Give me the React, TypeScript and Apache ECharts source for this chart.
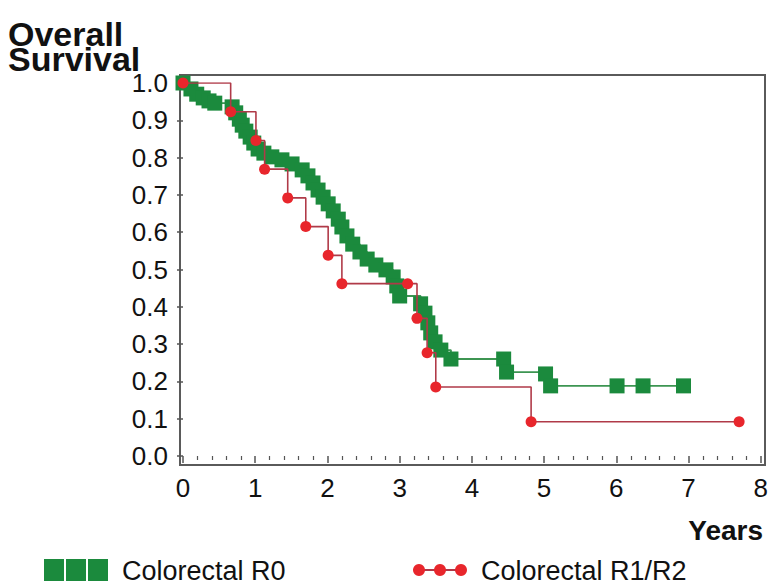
import React, { useEffect, useRef } from "react";
import * as echarts from "echarts";

// R0 group (green squares): Kaplan-Meier steps
const r0Years = [0, 0.11, 0.19, 0.28, 0.36, 0.44, 0.68, 0.73, 0.78, 0.82, 0.87, 0.93, 0.98, 1.04, 1.12, 1.23, 1.37, 1.51, 1.65, 1.73, 1.8, 1.87, 1.94, 2.01, 2.08, 2.15, 2.2, 2.27, 2.35, 2.45, 2.55, 2.67, 2.81, 2.91, 2.96, 3.0, 3.29, 3.35, 3.39, 3.43, 3.49, 3.57, 3.71, 4.44, 4.48, 5.02, 5.09, 6.01, 6.37, 6.93];
const r0Survival = [1.0, 0.984, 0.97, 0.96, 0.952, 0.946, 0.936, 0.92, 0.903, 0.887, 0.871, 0.855, 0.839, 0.823, 0.812, 0.802, 0.794, 0.783, 0.767, 0.751, 0.732, 0.713, 0.694, 0.676, 0.657, 0.635, 0.614, 0.59, 0.568, 0.547, 0.528, 0.512, 0.499, 0.48, 0.456, 0.429, 0.408, 0.383, 0.357, 0.33, 0.306, 0.284, 0.26, 0.26, 0.225, 0.22, 0.188, 0.188, 0.188, 0.188];

// R1/R2 group (red circles)
const r12Years = [0, 0.66, 1.01, 1.13, 1.45, 1.7, 2.01, 2.2, 3.11, 3.24, 3.38, 3.5, 4.82, 7.7];
const r12Survival = [1.0, 0.923, 0.846, 0.769, 0.692, 0.615, 0.538, 0.462, 0.462, 0.369, 0.277, 0.185, 0.092, 0.092];

const xTicks = [0, 1, 2, 3, 4, 5, 6, 7, 8];
const yTicks = [0, 0.1, 0.2, 0.3, 0.4, 0.5, 0.6, 0.7, 0.8, 0.9, 1.0];

const seriesNames = ["Colorectal R0", "Colorectal R1/R2"];
const yAxisTitleLines = ["Overall", "Survival"];
const xAxisTitle = "Years";

const FONT = "'Liberation Sans', Arial, Helvetica, sans-serif";

export default function App() {
  const ref = useRef<HTMLDivElement>(null);

  useEffect(() => {
    if (!ref.current) return;
    const chart = echarts.init(ref.current, null, { renderer: "svg" });

    const r0Data = r0Years.map((t, i) => [t, r0Survival[i]]);
    const r12Data = r12Years.map((t, i) => [t, r12Survival[i]]);

    const green = "#1b8a3d";
    const red = "#e8262c";

    chart.setOption({
      animation: false,
      backgroundColor: "#ffffff",
      grid: { left: 183, right: 10, top: 83, bottom: 130, containLabel: false },
      xAxis: {
        type: "value",
        min: xTicks[0],
        max: xTicks[xTicks.length - 1],
        interval: 1,
        offset: 9,
        axisLine: { show: false },
        axisTick: { show: true, length: 7, lineStyle: { color: "#555", width: 1.5 } },
        minorTick: { show: true, splitNumber: 5, length: 4, lineStyle: { color: "#555", width: 1.2 } },
        splitLine: { show: false },
        axisLabel: { fontSize: 26, color: "#111", fontFamily: FONT, margin: 10 },
      },
      yAxis: {
        type: "value",
        min: yTicks[0],
        max: yTicks[yTicks.length - 1],
        interval: 0.1,
        offset: 3,
        axisLine: { show: false },
        axisTick: { show: true, length: 6, lineStyle: { color: "#555", width: 1.5 } },
        splitLine: { show: false },
        axisLabel: {
          fontSize: 26,
          color: "#111",
          fontFamily: FONT,
          margin: 12,
          formatter: (v: number) => v.toFixed(1),
        },
      },
      graphic: [
        {
          type: "rect",
          shape: { x: 180, y: 75, width: 585, height: 390 },
          style: { fill: "none", stroke: "#5a5a5a", lineWidth: 2 },
          silent: true,
          z: 0,
        },
        {
          type: "text",
          x: 8,
          y: 34,
          style: {
            text: yAxisTitleLines[0],
            font: `bold 34px ${FONT}`,
            fill: "#111",
            verticalAlign: "middle",
          },
        },
        {
          type: "text",
          x: 8,
          y: 59,
          style: {
            text: yAxisTitleLines[1],
            font: `bold 34px ${FONT}`,
            fill: "#111",
            verticalAlign: "middle",
          },
        },
        {
          type: "text",
          x: 763,
          y: 530,
          style: {
            text: xAxisTitle,
            font: `bold 28px ${FONT}`,
            fill: "#111",
            align: "right",
            verticalAlign: "middle",
          },
        },
        // legend: green squares
        { type: "rect", shape: { x: 44, y: 559, width: 20, height: 22 }, style: { fill: green } },
        { type: "rect", shape: { x: 66, y: 559, width: 20, height: 22 }, style: { fill: green } },
        { type: "rect", shape: { x: 88, y: 559, width: 20, height: 22 }, style: { fill: green } },
        {
          type: "text",
          x: 122,
          y: 571,
          style: { text: seriesNames[0], font: `27px ${FONT}`, fill: "#111", verticalAlign: "middle" },
        },
        // legend: red dots
        {
          type: "line",
          shape: { x1: 415, y1: 570, x2: 464, y2: 570 },
          style: { stroke: "#b03a48", lineWidth: 2 },
        },
        { type: "circle", shape: { cx: 419, cy: 570, r: 6 }, style: { fill: red } },
        { type: "circle", shape: { cx: 440, cy: 570, r: 6 }, style: { fill: red } },
        { type: "circle", shape: { cx: 461, cy: 570, r: 6 }, style: { fill: red } },
        {
          type: "text",
          x: 481,
          y: 571,
          style: { text: seriesNames[1], font: `27px ${FONT}`, fill: "#111", verticalAlign: "middle" },
        },
      ],
      series: [
        {
          name: seriesNames[0],
          type: "line",
          step: "end",
          data: r0Data,
          showSymbol: true,
          showAllSymbol: true,
          symbol: "rect",
          symbolSize: 15,
          itemStyle: { color: green },
          lineStyle: { color: "#3d9552", width: 1.8 },
          z: 2,
        },
        {
          name: seriesNames[1],
          type: "line",
          step: "end",
          data: r12Data,
          showSymbol: true,
          showAllSymbol: true,
          symbol: "circle",
          symbolSize: 11,
          itemStyle: { color: red },
          lineStyle: { color: "#b03a48", width: 1.6 },
          z: 3,
        },
      ],
    });

    return () => chart.dispose();
  }, []);

  return (
    <div
      ref={ref}
      style={{ position: "fixed", left: 0, top: 0, width: 771, height: 586, background: "#fff" }}
    />
  );
}
